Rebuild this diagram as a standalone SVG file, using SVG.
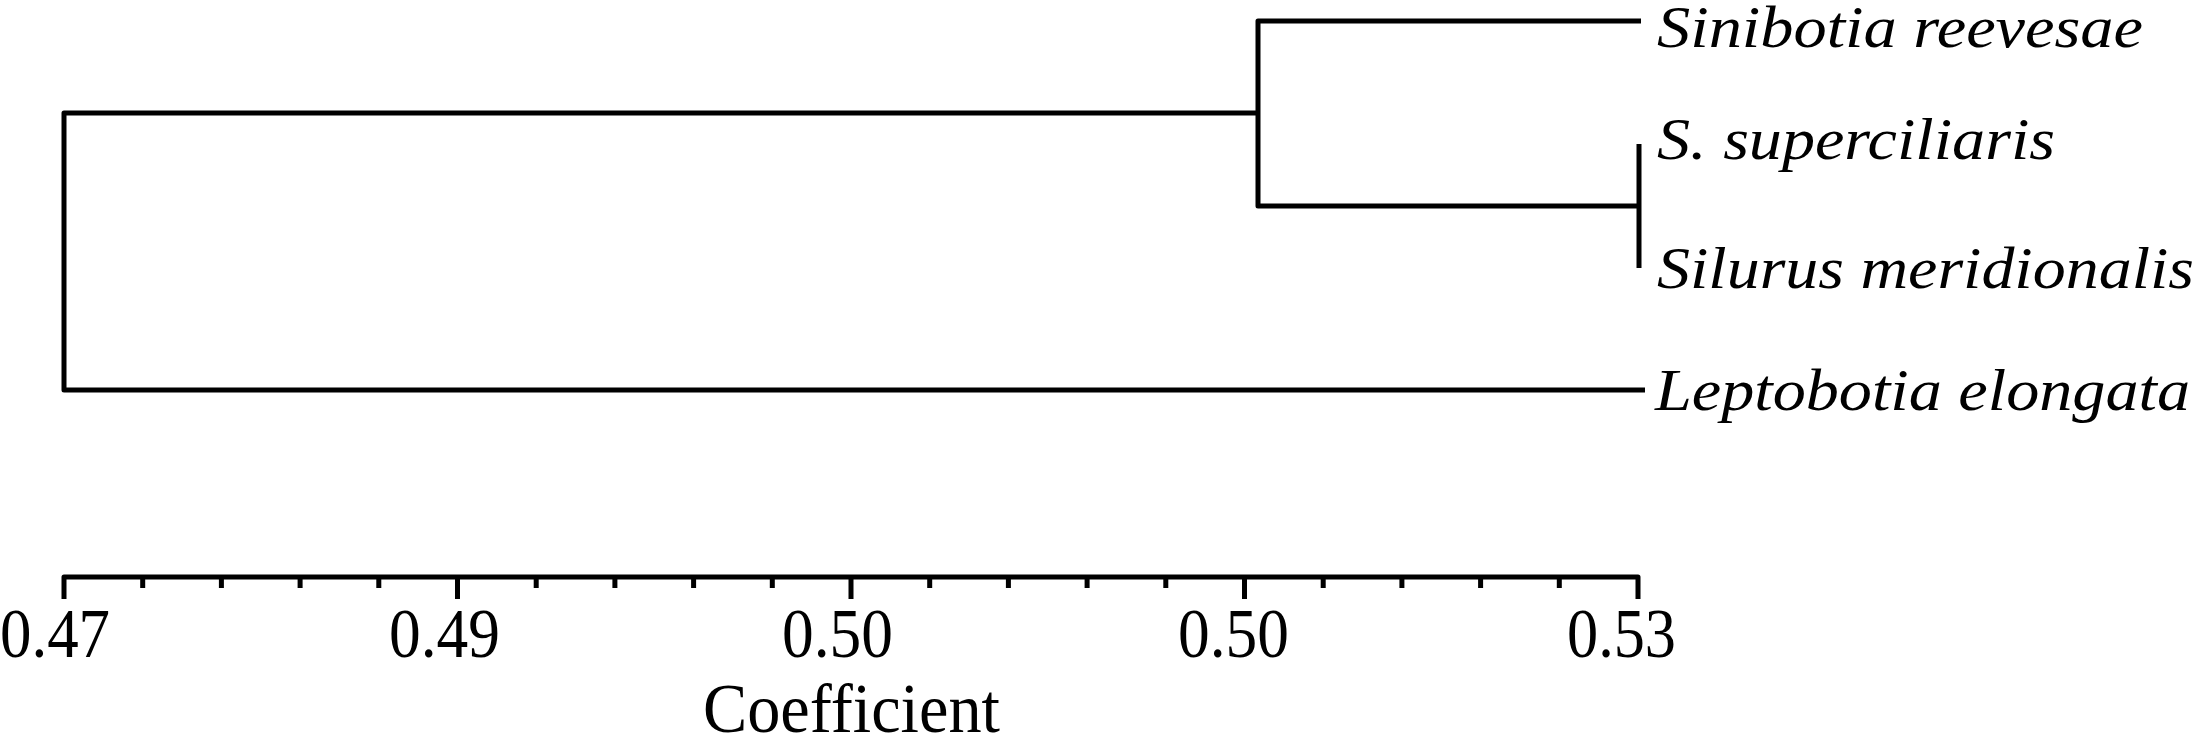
<svg xmlns="http://www.w3.org/2000/svg" width="2197" height="735" viewBox="0 0 2197 735">
<style>
.ln{fill:none;stroke:#000;stroke-width:5;stroke-linejoin:round}
.tk{stroke:#000;stroke-width:5}
.sp{font-family:'Liberation Serif','Times New Roman',serif;font-style:italic;font-size:60px;fill:#000}
.ax{font-family:'Liberation Serif','Times New Roman',serif;font-size:69px;fill:#000}
</style>
<rect width="2197" height="735" fill="#fff"/>
<g id="connectors">
<path class="ln" d="M1258,113 H64 V390 H1645"/>
<path class="ln" d="M1641,21 H1258 V206 H1639"/>
<path class="ln" d="M1639,144 V268"/>
</g>
<g id="node-sinibotia"><text class="sp" x="1657" y="47" textLength="486" lengthAdjust="spacingAndGlyphs">Sinibotia reevesae</text></g>
<g id="node-superciliaris"><text class="sp" x="1657" y="159" textLength="398" lengthAdjust="spacingAndGlyphs">S. superciliaris</text></g>
<g id="node-silurus"><text class="sp" x="1657" y="288" textLength="537" lengthAdjust="spacingAndGlyphs">Silurus meridionalis</text></g>
<g id="node-leptobotia"><text class="sp" x="1655" y="410" textLength="535" lengthAdjust="spacingAndGlyphs">Leptobotia elongata</text></g>
<g id="axis">
<path class="ln" d="M64,599 V577 H1638 V599"/>
<path class="tk" d="M457.5,577V599 M851,577V599 M1244.5,577V599
M142.7,577V588 M221.4,577V588 M300.1,577V588 M378.8,577V588
M536.2,577V588 M614.9,577V588 M693.6,577V588 M772.3,577V588
M929.7,577V588 M1008.4,577V588 M1087.1,577V588 M1165.8,577V588
M1323.2,577V588 M1401.9,577V588 M1480.6,577V588 M1559.3,577V588"/>
<text class="ax" x="0" y="657" textLength="110" lengthAdjust="spacingAndGlyphs">0.47</text>
<text class="ax" x="389" y="657" textLength="111" lengthAdjust="spacingAndGlyphs">0.49</text>
<text class="ax" x="782" y="657" textLength="111" lengthAdjust="spacingAndGlyphs">0.50</text>
<text class="ax" x="1178" y="657" textLength="111" lengthAdjust="spacingAndGlyphs">0.50</text>
<text class="ax" x="1567" y="657" textLength="109" lengthAdjust="spacingAndGlyphs">0.53</text>
<text class="ax" x="703" y="732" textLength="297" lengthAdjust="spacingAndGlyphs">Coefficient</text>
</g>
</svg>
